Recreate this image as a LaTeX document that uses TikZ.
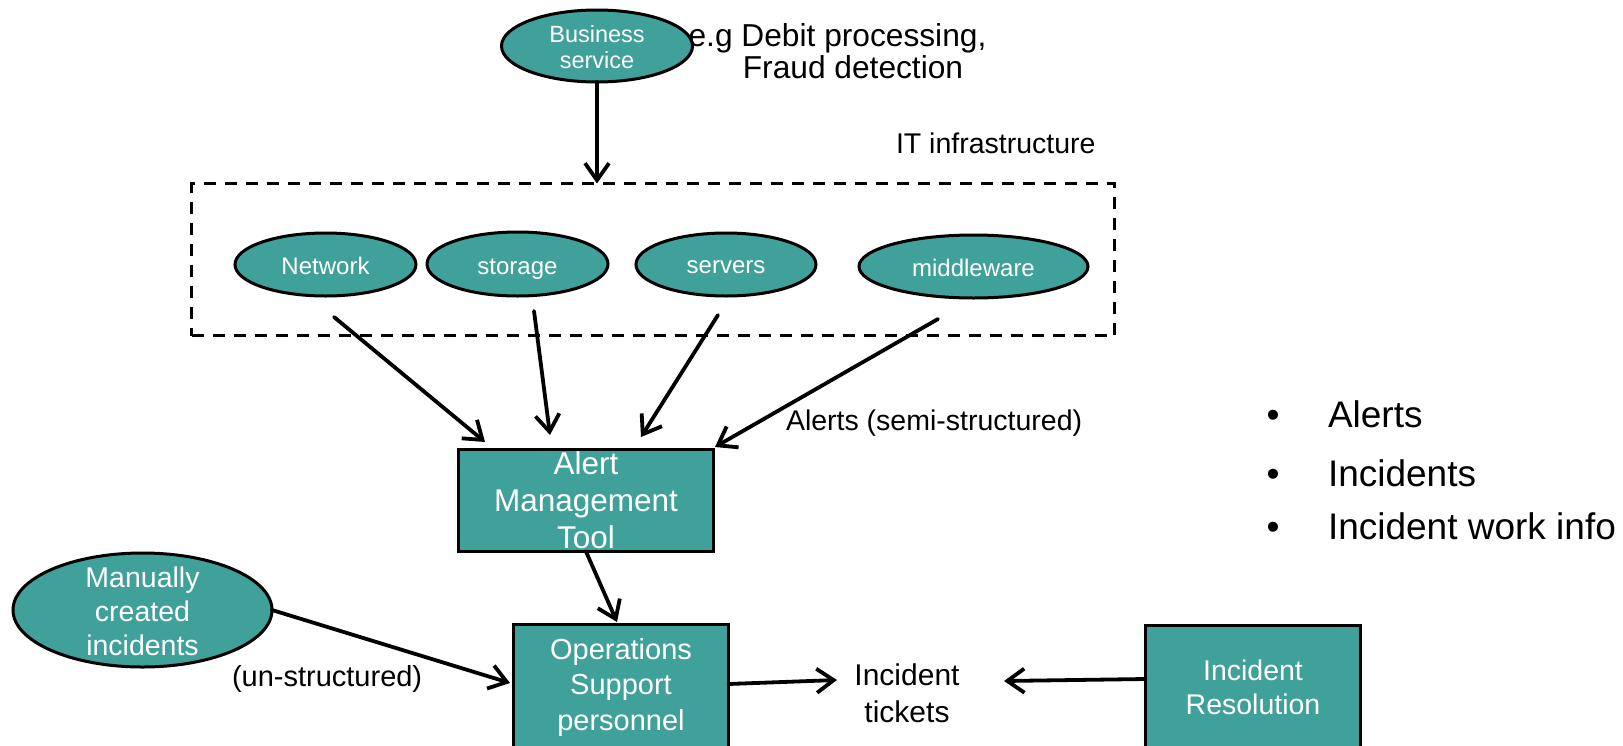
\documentclass[tikz,border=0pt]{standalone}
\usepackage{fontspec}
\setmainfont{Liberation Sans}
\usetikzlibrary{arrows.meta,shapes.geometric,calc}
\definecolor{tealfill}{RGB}{63,161,153}
% invisible struts that fix the height of the first line and the depth of the last
\newcommand\strutH[1]{\rule{0pt}{#1}}
\newcommand\strutD[1]{\rule[-#1]{0pt}{#1}}
\tikzset{
  every node/.style={inner sep=0pt, outer sep=0pt},
  blob/.style={ellipse, draw=black, line width=3pt, fill=tealfill},
  panel/.style={rectangle, draw=black, line width=3pt, fill=tealfill},
  lbl/.style={text=white, align=center, inner sep=0pt},
  plain/.style={text=black, align=center, inner sep=0pt},
  arr/.style={-{Straight Barb[length=17pt,width=24pt]}, line width=3.8pt,
              line cap=round, line join=round},
  infrabox/.style={draw=black, line width=2.8pt, dash pattern=on 12pt off 9pt}
}
\begin{document}
\begin{tikzpicture}[x=1pt,y=-1pt]
\useasboundingbox (0,0) rectangle (1623,745);
\fill[white] (0,0) rectangle (1623,745);

% business service and its examples
\node[blob, minimum width=191pt, minimum height=72pt,
  label={[lbl, font=\fontsize{23.5}{26}\selectfont]center:{\strutH{23.5pt}Business\\service\strutD{5.5pt}}}]
  (bs) at (597,46) {};
\node[plain, font=\fontsize{31.7}{32}\selectfont] (eg) at (853,54)
  {\strutH{24pt}e.g Debit processing,\kern31pt\\Fraud detection\strutD{7pt}};

% IT infrastructure group
\node[infrabox, minimum width=923pt, minimum height=152pt] (infra) at (653,259.5) {};
\node[plain, anchor=base west, font=\fontsize{28.5}{34}\selectfont] (itlbl) at (896,153) {IT infrastructure};

\node[blob, minimum width=181pt, minimum height=63pt,
  label={[lbl, font=\fontsize{24}{28}\selectfont]center:{\strutH{25.5pt}Network\strutD{5.5pt}}}]
  (net) at (325.5,264.5) {};
\node[blob, minimum width=181pt, minimum height=64pt,
  label={[lbl, font=\fontsize{24}{28}\selectfont]center:{\strutH{25.5pt}storage\strutD{5.5pt}}}]
  (sto) at (517.5,264) {};
\node[blob, minimum width=180pt, minimum height=63pt,
  label={[lbl, font=\fontsize{24}{28}\selectfont]center:{\strutH{24pt}servers\strutD{5.5pt}}}]
  (srv) at (726,264.5) {};
\node[blob, minimum width=229pt, minimum height=63pt,
  label={[lbl, font=\fontsize{24}{28}\selectfont]center:{\strutH{25.5pt}middleware\strutD{5.5pt}}}]
  (mid) at (973.5,266.5) {};

% alert management
\node[panel, minimum width=255pt, minimum height=102pt,
  label={[lbl, font=\fontsize{31.5}{37}\selectfont]center:{\strutH{27.5pt}Alert\\Management\\Tool\strutD{6.5pt}}}]
  (alert) at (586,500.5) {};
\node[plain, anchor=base west, font=\fontsize{28.5}{34}\selectfont] (alertlbl) at (786,430) {Alerts (semi-structured)};

% operations
\node[panel, minimum width=215pt, minimum height=122.5pt,
  label={[lbl, font=\fontsize{29}{35.5}\selectfont]center:{\strutH{28.5pt}Operations\\Support\\personnel\strutD{11pt}}}]
  (ops) at (621,685.75) {};
\node[blob, minimum width=259pt, minimum height=114pt,
  label={[lbl, font=\fontsize{28.5}{34}\selectfont]center:{\strutH{28.5pt}Manually\\created\\incidents\strutD{6.5pt}}}]
  (man) at (142.5,610) {};
\node[plain, anchor=base west, font=\fontsize{29}{34}\selectfont] (unlbl) at (232,686) {(un-structured)};

\node[plain, font=\fontsize{30}{37}\selectfont] (tk) at (907,695.5)
  {\strutH{23pt}Incident\\tickets\strutD{7pt}};
\node[panel, minimum width=215pt, minimum height=121.5pt,
  label={[lbl, font=\fontsize{28.5}{34}\selectfont]center:{\strutH{32pt}Incident\\Resolution\strutD{10.5pt}}}]
  (res) at (1253,686.25) {};

% data kinds
\node[plain, anchor=base west, font=\fontsize{37}{42}\selectfont] (b1) at (1266.5,427) {\makebox[61.5pt][l]{•}Alerts};
\node[plain, anchor=base west, font=\fontsize{37}{42}\selectfont] (b2) at (1266.5,486) {\makebox[61.5pt][l]{•}Incidents};
\node[plain, anchor=base west, font=\fontsize{37}{42}\selectfont] (b3) at (1266.5,539) {\makebox[61.5pt][l]{•}Incident work info};

% connectors
\draw[arr] (bs.south) -- (bs.south |- infra.north);
\draw[arr] ($(net.south)+(8.5,21)$) -- ($(alert.north west)+(26.5,-7.5)$);
\draw[arr] ($(sto.south)+(16.5,15)$) -- ($(alert.north west)+(91.5,-14.5)$);
\draw[arr] ($(srv.south)+(-8,19)$) -- ($(alert.north west)+(182.5,-12.5)$);
\draw[arr] ($(mid.south)+(-35.5,21)$) -- ($(alert.north east)+(1.5,-2.5)$);
\draw[arr] (alert.south) -- ($(ops.north)+(-4,-2.5)$);
\draw[arr] (man.east) -- ($(ops.west)+(-3.5,-2.75)$);
\draw[arr] ($(ops.east)+(0,-1.75)$) -- ($(tk.west)+(-17.5,-15.5)$);
\draw[arr] ($(res.west)+(0,-7.25)$) -- ($(tk.east)+(44.5,-14.5)$);
\end{tikzpicture}
\end{document}
